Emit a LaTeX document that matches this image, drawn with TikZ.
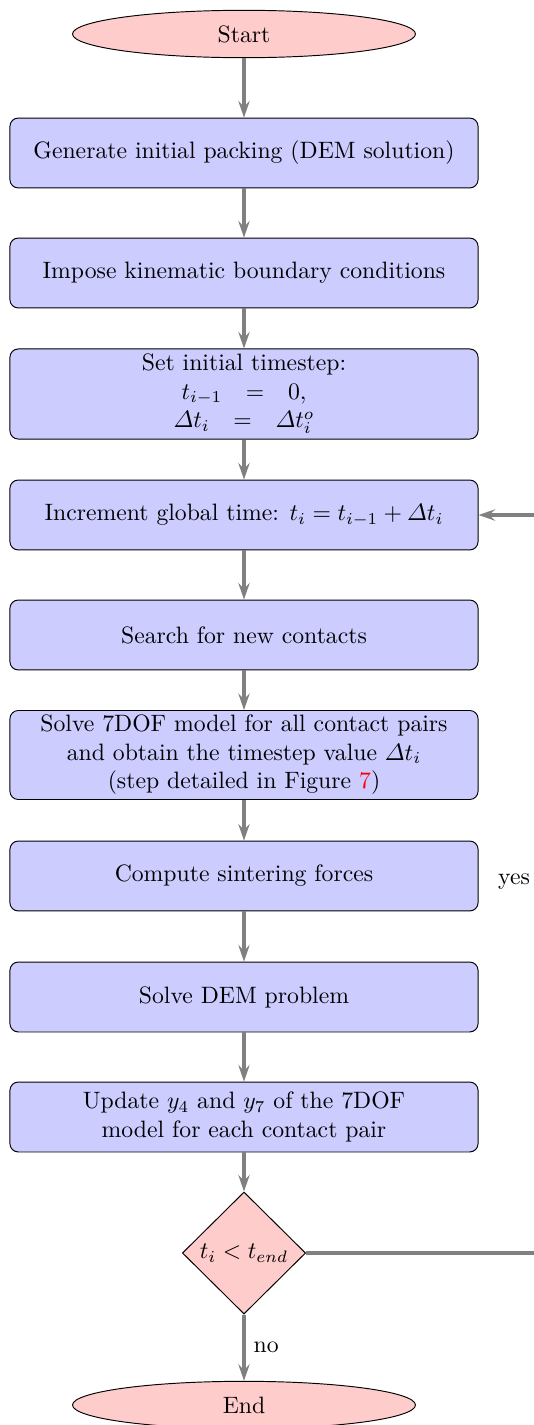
\documentclass[tikz,border=0pt]{standalone}
\usepackage{amsmath}
\usetikzlibrary{shapes.geometric,arrows.meta}
\begin{document}
\begin{tikzpicture}[x=0.4219pt,y=-0.4219pt,
  proc/.style={rectangle, rounded corners=3.5pt, draw=black, fill=blue!20,
    minimum width=197.5pt, minimum height=29.5pt, align=center, inner sep=2pt},
  term/.style={ellipse, draw=black, fill=red!20, minimum width=144.7pt,
    minimum height=20pt, inner sep=0pt},
  decision/.style={diamond, draw=black, fill=red!20, minimum width=52pt,
    minimum height=51.5pt, inner sep=0pt},
  flow/.style={draw=gray, line width=1.5pt,
    -{Stealth[length=7pt,width=4.8pt,inset=2.5pt]}}]
\useasboundingbox (0,0) rectangle (533,1425);
\node[term] (start) at (244,34) {Start};
\node[proc] (b1) at (244,153) {Generate initial packing (DEM solution)};
\node[proc] (b2) at (244,273) {Impose kinematic boundary conditions};
\node[proc, minimum height=38pt] (b3) at (244,394) {Set initial timestep:\\
  $t_{i-1}\quad{=}\quad 0,$\\
  $\varDelta t_i\quad{=}\quad \varDelta t_i^o$};
\node[proc] (b4) at (244,515) {Increment global time: $t_i = t_{i-1} + \varDelta t_i$};
\node[proc] (b5) at (244,635) {Search for new contacts};
\node[proc, minimum height=37.5pt] (b6) at (244,755) {Solve 7DOF model for all contact pairs\\
  and obtain the timestep value $\varDelta t_i$\\
  (step detailed in Figure \textcolor{red}{7})};
\node[proc] (b7) at (244,876) {Compute sintering forces};
\node[proc] (b8) at (244,997) {Solve DEM problem};
\node[proc] (b9) at (244,1117) {Update $y_4$ and $y_7$ of the 7DOF\\ model for each contact pair};
\node[decision] (dec) at (244,1253) {$t_i < t_{end}$};
\node[term] (end) at (244,1405) {End};
\coordinate (c1) at (560,1253);
\coordinate (c2) at (560,515);
\node (yes) at (514,882) {yes};

\draw[flow] (start) -- (b1);
\draw[flow] (b1) -- (b2);
\draw[flow] (b2) -- (b3);
\draw[flow] (b3) -- (b4);
\draw[flow] (b4) -- (b5);
\draw[flow] (b5) -- (b6);
\draw[flow] (b6) -- (b7);
\draw[flow] (b7) -- (b8);
\draw[flow] (b8) -- (b9);
\draw[flow] (b9) -- (dec);
\draw[flow] (dec) -- node[right] {no} (end);
\draw[flow] (dec.east) -- (c1) -- (c2) -- (b4.east);
\end{tikzpicture}
\end{document}
